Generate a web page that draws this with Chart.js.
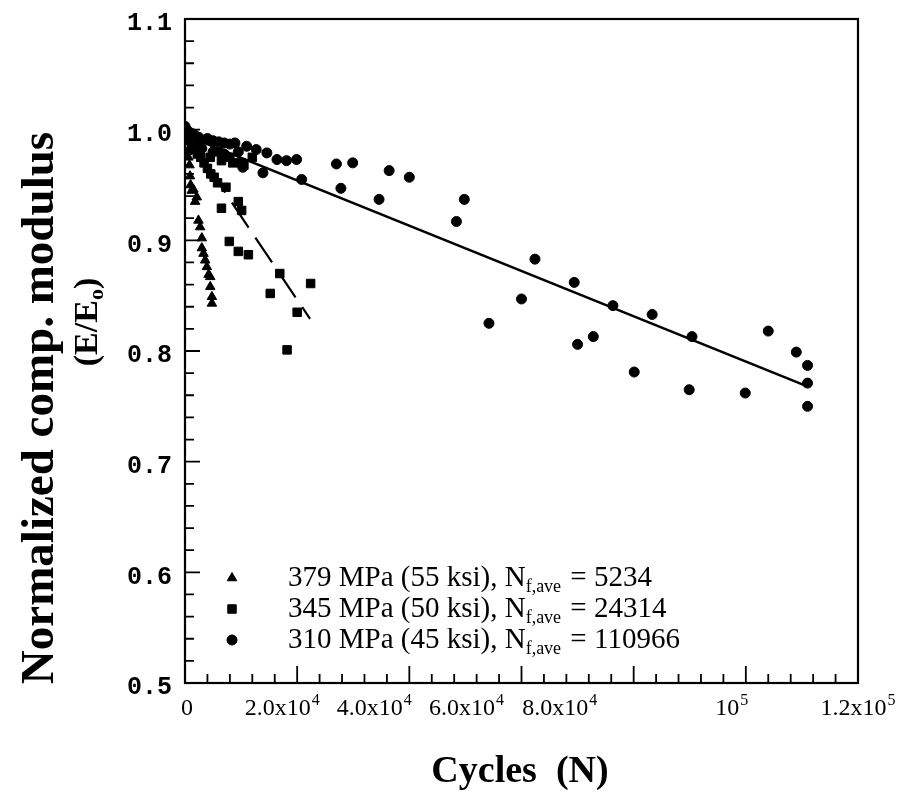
<!DOCTYPE html>
<html>
<head>
<meta charset="utf-8">
<script src="https://cdn.jsdelivr.net/npm/chart.js@4.4.1/dist/chart.umd.min.js"></script>
<style>
  html, body { margin: 0; padding: 0; background: #fff; }
  canvas { display: block; }
</style>
</head>
<body>
<canvas id="chart" width="914" height="806"></canvas>
<script>
// ---- data: normalized compressive modulus vs. fatigue cycles ----
// 379 MPa (55 ksi)
const cycles379 = [0, 200, 400, 600, 800, 900, 1000, 1200, 1500, 1800, 2100, 2400, 2700, 3000, 3000, 3300, 3600, 3900, 4200, 4500, 4500, 4800, 4800];
const modulus379 = [1.0, 0.99, 0.98, 0.975, 0.968, 0.958, 0.95, 0.945, 0.946, 0.935, 0.939, 0.918, 0.912, 0.902, 0.893, 0.888, 0.882, 0.876, 0.869, 0.867, 0.858, 0.849, 0.843];

// 345 MPa (50 ksi)
const cycles345 = [0, 400, 800, 1200, 1700, 2200, 2800, 3400, 4000, 4500, 4600, 5200, 5800, 6000, 6500, 6500, 7300, 7900, 8000, 8500, 9500, 9500, 10100, 10000, 10500, 11300, 12000, 15200, 16900, 18200, 20000, 22400];
const modulus345 = [1.0, 0.995, 0.99, 0.985, 0.982, 0.978, 0.975, 0.97, 0.965, 0.975, 0.96, 0.957, 0.952, 0.98, 0.929, 0.972, 0.948, 0.899, 0.975, 0.97, 0.890, 0.935, 0.927, 0.97, 0.968, 0.887, 0.975, 0.852, 0.870, 0.801, 0.835, 0.861];

// 310 MPa (45 ksi)
const cycles310 = [0, 300, 600, 1000, 1500, 2000, 2000, 2500, 3000, 3000, 4000, 5000, 5000, 6000, 7000, 7000, 8000, 8900, 9500, 10300, 11000, 12700, 13900, 14600, 16400, 18100, 19900, 20800, 27000, 27800, 29900, 34600, 36400, 40000, 48400, 49800, 54200, 60000, 62400, 69400, 70000, 72800, 76300, 80100, 83300, 89900, 90400, 99900, 104000, 109000, 111000, 111000, 111000];
const modulus310 = [1.003, 1.0, 0.998, 0.997, 0.996, 0.994, 0.985, 0.993, 0.99, 0.983, 0.992, 0.99, 0.98, 0.989, 0.988, 0.978, 0.987, 0.988, 0.98, 0.966, 0.985, 0.982, 0.961, 0.979, 0.973, 0.972, 0.973, 0.955, 0.969, 0.947, 0.970, 0.937, 0.963, 0.957, 0.917, 0.937, 0.825, 0.847, 0.883, 0.862, 0.806, 0.813, 0.841, 0.781, 0.833, 0.765, 0.813, 0.762, 0.818, 0.799, 0.787, 0.771, 0.750];

// linear trend lines
const fit345Cycles = [0, 22300];
const fit345Modulus = [0.997, 0.829];
const fit310Cycles = [0, 110966];
const fit310Modulus = [0.995, 0.768];

// legend entries
const seriesNames = ['379 MPa (55 ksi), N', '345 MPa (50 ksi), N', '310 MPa (45 ksi), N'];
const seriesLife = ['5234', '24314', '110966'];

// axis tick labels
const xTickValues = [0, 20000, 40000, 60000, 80000, 100000, 120000];
const xTickBase = ['0', '2.0x10', '4.0x10', '6.0x10', '8.0x10', '10', '1.2x10'];
const xTickExp = ['', '4', '4', '4', '4', '5', '5'];
const yTickValues = [0.5, 0.6, 0.7, 0.8, 0.9, 1.0, 1.1];
const yTickLabels = ['0.5', '0.6', '0.7', '0.8', '0.9', '1.0', '1.1'];

// horizontal nudge of each x label away from its tick, as typeset on the axis
const xLabelNudge = [2, -15, -35, -55, -74, -14, 0];

const pts = (xs, ys) => xs.map((x, i) => ({ x: x, y: ys[i] }));

const SERIF = '"Liberation Serif", "Times New Roman", serif';
const MONO = '"Liberation Mono", "Courier New", monospace';

// frame, inward tick marks, x tick labels with exponents
const framePlugin = {
  id: 'frame',
  afterDraw(chart) {
    const { ctx, chartArea: a, scales: { x, y } } = chart;
    ctx.save();
    ctx.strokeStyle = '#000';
    ctx.lineWidth = 2.2;
    ctx.strokeRect(a.left, a.top, a.right - a.left, a.bottom - a.top);
    ctx.lineWidth = 1.8;
    ctx.beginPath();
    for (let v = 0; v <= 120000; v += 4000) {
      const px = x.getPixelForValue(v);
      const len = v % 20000 === 0 ? 17 : 9;
      ctx.moveTo(px, a.bottom);
      ctx.lineTo(px, a.bottom - len);
    }
    for (let k = 0; k <= 30; k++) {
      const v = 0.5 + k * 0.02;
      const py = y.getPixelForValue(v);
      const len = k % 5 === 0 ? 15 : 9;
      ctx.moveTo(a.left, py);
      ctx.lineTo(a.left + len, py);
    }
    ctx.stroke();

    // x tick labels
    ctx.fillStyle = '#000';
    ctx.textBaseline = 'alphabetic';
    xTickValues.forEach((v, i) => {
      const base = xTickBase[i], exp = xTickExp[i];
      ctx.font = '24px ' + SERIF;
      const wb = ctx.measureText(base).width;
      ctx.font = '16px ' + SERIF;
      const we = exp ? ctx.measureText(exp).width + 1 : 0;
      const cx = x.getPixelForValue(v) + xLabelNudge[i];
      const left = cx - (wb + we) / 2;
      const baseY = a.bottom + 32;
      ctx.font = '24px ' + SERIF;
      ctx.textAlign = 'left';
      ctx.fillText(base, left, baseY);
      if (exp) {
        ctx.font = '16px ' + SERIF;
        ctx.fillText(exp, left + wb + 1, baseY - 10);
      }
    });
    ctx.restore();
  }
};

// axis titles
const titlePlugin = {
  id: 'titles',
  afterDraw(chart) {
    const { ctx } = chart;
    ctx.save();
    ctx.fillStyle = '#000';
    ctx.textBaseline = 'middle';
    ctx.textAlign = 'center';
    ctx.font = 'bold 38px ' + SERIF;
    ctx.fillText('Cycles  (N)', 520, 772);

    ctx.translate(41, 408);
    ctx.rotate(-Math.PI / 2);
    ctx.font = 'bold 47px ' + SERIF;
    ctx.fillText('Normalized comp. modulus', 0, 0);
    ctx.restore();

    // second title line: (E/E_o)
    ctx.save();
    ctx.fillStyle = '#000';
    ctx.translate(88, 322);
    ctx.rotate(-Math.PI / 2);
    ctx.textBaseline = 'middle';
    ctx.textAlign = 'left';
    ctx.font = 'bold 34px ' + SERIF;
    const w1 = ctx.measureText('(E/E').width;
    ctx.font = 'bold 22px ' + SERIF;
    const w2 = ctx.measureText('o').width;
    ctx.font = 'bold 34px ' + SERIF;
    const w3 = ctx.measureText(')').width;
    let cx = -(w1 + w2 + w3) / 2;
    ctx.fillText('(E/E', cx, 0);
    cx += w1;
    ctx.font = 'bold 22px ' + SERIF;
    ctx.fillText('o', cx, 9);
    cx += w2;
    ctx.font = 'bold 34px ' + SERIF;
    ctx.fillText(')', cx, 0);
    ctx.restore();
  }
};

// in-plot legend with subscripted N_f,ave
const legendPlugin = {
  id: 'subLegend',
  afterDraw(chart) {
    const { ctx } = chart;
    const styles = ['triangle', 'rect', 'circle'];
    const radii = [5.5, 6, 5];
    const markX = 232, textX = 288;
    const rows = [578, 609, 640];
    ctx.save();
    ctx.fillStyle = '#000';
    ctx.strokeStyle = '#000';
    ctx.textBaseline = 'alphabetic';
    ctx.textAlign = 'left';
    rows.forEach((ry, i) => {
      Chart.helpers.drawPoint(ctx, { pointStyle: styles[i], radius: radii[i], borderWidth: 1 }, markX, ry);
      const base = ry + 8;
      let cx = textX;
      ctx.font = '29px ' + SERIF;
      ctx.fillText(seriesNames[i], cx, base);
      cx += ctx.measureText(seriesNames[i]).width;
      ctx.font = '18px ' + SERIF;
      ctx.fillText('f,ave', cx, base + 6);
      cx += ctx.measureText('f,ave').width + 2;
      ctx.font = '29px ' + SERIF;
      ctx.fillText(' = ' + seriesLife[i], cx, base);
    });
    ctx.restore();
  }
};

new Chart(document.getElementById('chart'), {
  type: 'scatter',
  data: {
    datasets: [
      {
        label: '379 MPa',
        data: pts(cycles379, modulus379),
        pointStyle: 'triangle',
        pointRadius: 5.5,
        backgroundColor: '#000',
        borderColor: '#000',
        borderWidth: 1
      },
      {
        label: '345 MPa',
        data: pts(cycles345, modulus345),
        pointStyle: 'rect',
        pointRadius: 6,
        backgroundColor: '#000',
        borderColor: '#000',
        borderWidth: 1
      },
      {
        label: '310 MPa',
        data: pts(cycles310, modulus310),
        pointStyle: 'circle',
        pointRadius: 5,
        backgroundColor: '#000',
        borderColor: '#000',
        borderWidth: 1
      },
      {
        label: '345 MPa trend',
        type: 'line',
        data: pts(fit345Cycles, fit345Modulus),
        borderColor: '#000',
        borderWidth: 2.2,
        borderDash: [30, 12],
        pointRadius: 0,
        fill: false
      },
      {
        label: '310 MPa trend',
        type: 'line',
        data: pts(fit310Cycles, fit310Modulus),
        borderColor: '#000',
        borderWidth: 2.6,
        pointRadius: 0,
        fill: false
      }
    ]
  },
  options: {
    responsive: false,
    animation: false,
    events: [],
    layout: { padding: { left: 0, right: 56, top: 19, bottom: 0 } },
    plugins: {
      legend: { display: false },
      tooltip: { enabled: false },
      title: { display: false }
    },
    scales: {
      x: {
        type: 'linear',
        min: 0,
        max: 120000,
        afterFit: s => { s.height = 123; s.paddingLeft = 0; s.paddingRight = 0; },
        afterBuildTicks: s => { s.ticks = xTickValues.map(v => ({ value: v })); },
        grid: { display: false, drawTicks: false },
        border: { display: false },
        ticks: { display: false }
      },
      y: {
        type: 'linear',
        min: 0.5,
        max: 1.1,
        afterFit: s => { s.width = 185; s.paddingTop = 0; s.paddingBottom = 0; },
        afterBuildTicks: s => { s.ticks = yTickValues.map(v => ({ value: v })); },
        grid: { display: false, drawTicks: false },
        border: { display: false },
        ticks: {
          color: '#000',
          padding: 13,
          labelOffset: 5,
          font: { family: MONO, size: 25, weight: 'bold' },
          callback: (v, i) => yTickLabels[i]
        }
      }
    }
  },
  plugins: [framePlugin, titlePlugin, legendPlugin]
});
</script>
</body>
</html>
